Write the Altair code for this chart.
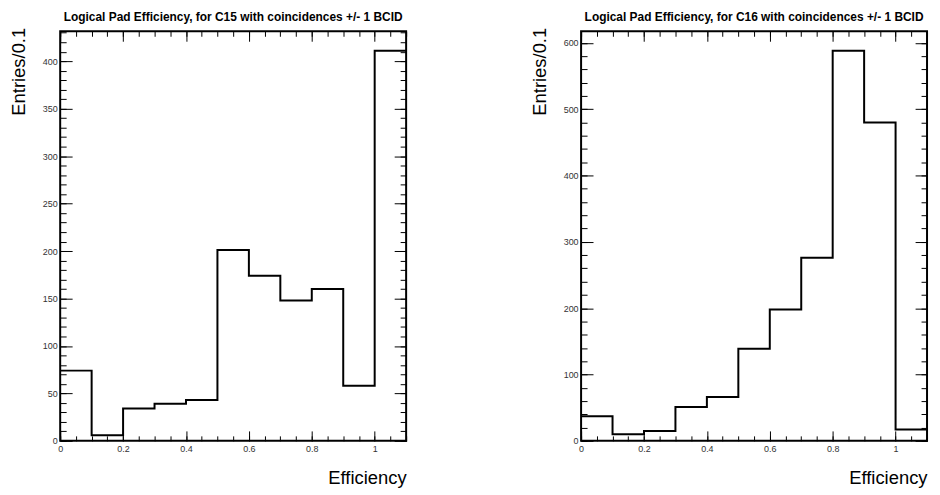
import altair as alt
import pandas as pd

# ---- data ----
bin_lo = [0.0, 0.1, 0.2, 0.3, 0.4, 0.5, 0.6, 0.7, 0.8, 0.9, 1.0]
x_end = 1.1
c15_counts = [74, 6, 34, 39, 43, 201, 174, 148, 160, 58, 411]
c16_counts = [37, 10, 15, 51, 66, 139, 198, 276, 588, 480, 17]

titles = [
    "Logical Pad Efficiency,  for C15 with coincidences  +/- 1 BCID",
    "Logical Pad Efficiency,  for C16 with coincidences  +/- 1 BCID",
]
y_title = "Entries/0.1"
x_title = "Efficiency"

x_label_vals = [0, 0.2, 0.4, 0.6, 0.8, 1.0]
x_minor_vals = [round(i * 0.05, 2) for i in range(23)]
left_y_labels = [0, 50, 100, 150, 200, 250, 300, 350, 400]
left_y_minor = list(range(0, 431, 10))
right_y_labels = [0, 100, 200, 300, 400, 500, 600]
right_y_minor = list(range(0, 617, 20))

FONT = "Liberation Sans"
W, H = 348, 412


def tick_axis(values, size, orient, offset):
    return alt.Axis(values=values, tickSize=size, orient=orient, offset=offset,
                    labels=False, domain=False, grid=False, title=None,
                    ticks=True, tickColor="black", tickWidth=1)


def panel(counts, title, ymax, ylabels, yminor):
    df = pd.DataFrame({"x": bin_lo + [x_end], "y": counts + [counts[-1]]})
    xs = alt.Scale(domain=[0, x_end], nice=False, zero=False)
    ys = alt.Scale(domain=[0, ymax], nice=False, zero=True)
    base = alt.Chart(df)

    hist = base.mark_line(interpolate="step-after", color="black", strokeWidth=2).encode(
        x=alt.X("x:Q", scale=xs, axis=alt.Axis(
            values=x_label_vals, format="~g", ticks=False, domain=False, grid=False,
            labelFontSize=9, labelColor="#333333", labelPadding=4, labelFont=FONT,
            labelFlush=False,
            title=x_title, titleFont=FONT, titleFontSize=18.5, titleFontWeight="normal",
            titleColor="black", titleAlign="right", titleBaseline="alphabetic",
            titleX=W, titleY=43, titleAngle=0)),
        y=alt.Y("y:Q", scale=ys, axis=alt.Axis(
            values=ylabels, format="d", ticks=False, domain=False, grid=False,
            labelFontSize=9, labelColor="#333333", labelPadding=3, labelFont=FONT,
            labelFlush=False,
            title=y_title, titleFont=FONT, titleFontSize=18.5, titleFontWeight="normal",
            titleColor="black", titleAngle=270, titleAlign="right",
            titleBaseline="alphabetic", titleX=-35.5, titleY=-4)),
    )

    def ticks(xv, xsize, xo, xoff, yv, ysize, yo, yoff):
        return base.mark_line(opacity=0, strokeWidth=0).encode(
            x=alt.X("x:Q", scale=xs, axis=tick_axis(xv, xsize, xo, xoff)),
            y=alt.Y("y:Q", scale=ys, axis=tick_axis(yv, ysize, yo, yoff)),
        )

    layers = [
        hist,
        ticks(x_label_vals, 10, "top", -H, ylabels, 12, "right", -W),
        ticks(x_minor_vals, 5, "top", -H, yminor, 6, "right", -W),
        ticks(x_label_vals, 10, "bottom", -H, ylabels, 12, "left", -W),
        ticks(x_minor_vals, 5, "bottom", -H, yminor, 6, "left", -W),
    ]
    return alt.layer(*layers).resolve_axis(x="independent", y="independent").properties(
        width=W, height=H,
        title=alt.TitleParams(text=title, font=FONT, fontSize=12, fontWeight="bold",
                              anchor="middle", frame="group", baseline="alphabetic",
                              offset=-5.5, color="black"),
    )


left = panel(c15_counts, titles[0], 411 * 1.05, left_y_labels, left_y_minor)
right = panel(c16_counts, titles[1], 588 * 1.05, right_y_labels, right_y_minor)

chart = alt.hconcat(left, right, spacing=176, bounds="flush").configure(
    padding={"left": 0.5, "top": 0, "right": 0, "bottom": 0},
    background="white",
).configure_view(stroke="black", strokeWidth=2)

chart.save("out.html", embed_options={"renderer": "svg", "actions": False})
